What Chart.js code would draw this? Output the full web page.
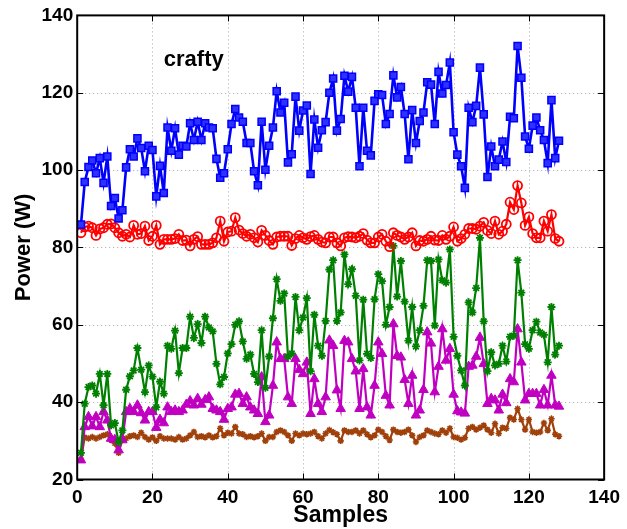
<!DOCTYPE html>
<html>
<head>
<meta charset="utf-8">
<script src="https://cdn.jsdelivr.net/npm/chart.js@4/dist/chart.umd.min.js"></script>
<style>
  html, body { margin: 0; padding: 0; background: #fff; }
  #wrap { width: 627px; height: 529px; position: relative; }
</style>
</head>
<body>
<div id="wrap"><canvas id="c" width="627" height="529"></canvas></div>
<script>
// Power draw of the "crafty" workload, one reading per sample
const seriesBlue = [
  85.9, 96.9, 100.8, 102.5, 99.2, 103.1, 96.7, 103.5, 90.7, 92.8,
  87.5, 89.6, 100.7, 105.4, 103.5, 108.2, 105.7, 99.7, 106.3, 105.2,
  93.2, 101.1, 94.1, 111.0, 105.0, 110.8, 104.0, 106.3, 106.1, 112.1,
  107.8, 112.5, 107.8, 112.1, 111.0, 110.8, 102.9, 98.0, 99.2, 105.4,
  111.9, 115.8, 113.6, 112.5, 107.0, 107.0, 99.7, 96.1, 112.5, 100.1,
  106.3, 111.0, 120.4, 114.9, 117.4, 102.0, 104.1, 119.0, 110.2, 115.4,
  116.7, 99.0, 113.1, 105.8, 110.3, 112.4, 120.0, 123.7, 110.2, 113.2,
  124.4, 120.3, 124.1, 116.1, 101.0, 116.1, 105.0, 103.8, 117.9, 119.6,
  119.4, 111.9, 114.5, 124.5, 118.8, 121.5, 114.5, 102.8, 115.5, 107.0,
  112.7, 114.9, 122.7, 122.1, 111.9, 125.4, 119.8, 122.0, 127.8, 109.8,
  104.0, 101.0, 95.4, 116.1, 112.4, 116.6, 126.5, 114.4, 98.2, 106.1,
  101.0, 102.7, 107.4, 102.1, 113.8, 113.4, 132.1, 123.9, 108.7, 105.5,
  111.5, 113.6, 110.3, 107.8, 101.8, 118.1, 103.1, 107.6
];
const seriesRed = [
  83.8, 85.3, 85.5, 85.1, 83.1, 84.8, 85.1, 86.0, 86.1, 85.1,
  83.8, 82.9, 83.4, 82.7, 85.7, 83.4, 83.6, 85.5, 81.8, 82.9,
  85.7, 80.8, 82.1, 82.1, 82.1, 82.3, 83.4, 81.8, 81.9, 80.4,
  82.1, 82.8, 80.8, 80.8, 80.8, 81.2, 82.5, 86.8, 81.6, 84.0,
  84.2, 87.7, 84.5, 83.6, 82.9, 83.4, 82.5, 81.4, 84.4, 83.1,
  81.8, 80.8, 82.7, 82.9, 82.9, 82.9, 80.5, 82.3, 83.1, 82.5,
  82.1, 82.8, 83.1, 82.1, 81.4, 81.2, 82.7, 82.7, 81.2, 80.4,
  82.5, 82.8, 82.7, 82.5, 82.9, 83.6, 81.9, 81.2, 81.2, 82.7,
  83.4, 81.6, 80.2, 83.8, 83.1, 82.7, 82.1, 82.7, 83.8, 80.4,
  81.8, 81.6, 82.1, 82.9, 81.9, 81.8, 83.1, 82.1, 82.9, 85.3,
  81.6, 82.3, 83.4, 84.9, 84.9, 84.7, 85.5, 86.5, 84.4, 83.6,
  86.8, 83.4, 84.2, 86.0, 91.7, 89.8, 96.0, 91.5, 85.7, 87.9,
  83.6, 82.5, 82.5, 86.8, 84.2, 88.5, 82.3, 81.6
];
const seriesGreen = [
  26.9, 39.6, 43.9, 44.3, 42.2, 47.3, 39.2, 47.3, 34.0, 34.6,
  29.7, 32.7, 43.2, 46.7, 48.2, 54.0, 48.4, 42.6, 49.5, 46.6,
  38.7, 45.3, 42.2, 54.6, 53.8, 58.5, 47.5, 54.0, 54.0, 62.1,
  56.6, 60.2, 55.3, 62.1, 59.3, 58.3, 49.9, 44.6, 46.5, 52.6,
  55.0, 60.0, 60.9, 55.7, 51.2, 52.3, 47.3, 45.2, 58.6, 43.7,
  51.8, 61.7, 71.8, 66.2, 68.1, 51.8, 52.6, 67.2, 58.6, 61.9,
  66.9, 48.0, 62.6, 54.6, 52.0, 61.0, 74.3, 76.7, 61.0, 63.2,
  78.2, 70.5, 74.4, 67.5, 50.8, 66.5, 52.5, 51.4, 66.6, 73.1,
  71.3, 60.0, 64.6, 80.4, 67.3, 76.5, 66.0, 55.9, 64.6, 54.4,
  58.6, 64.9, 76.7, 76.5, 59.8, 76.9, 71.5, 70.9, 79.5, 56.9,
  52.0, 48.2, 44.3, 65.8, 63.2, 69.5, 82.5, 60.9, 48.0, 52.9,
  49.5, 49.9, 54.6, 50.5, 56.9, 57.2, 76.7, 68.3, 55.0, 53.8,
  58.6, 60.8, 58.0, 57.4, 50.3, 64.6, 52.3, 54.6
];
const seriesMagenta = [
  25.0, 33.6, 36.2, 33.8, 36.2, 33.6, 37.5, 35.3, 30.6, 30.3,
  27.6, 30.2, 37.5, 38.3, 37.5, 39.2, 37.2, 35.3, 37.5, 37.5,
  33.4, 35.5, 34.6, 38.7, 37.5, 37.9, 37.5, 37.9, 39.4, 40.3,
  39.2, 40.9, 39.4, 40.6, 41.3, 38.3, 37.9, 37.5, 35.5, 38.3,
  38.7, 42.0, 42.2, 39.6, 41.3, 38.7, 37.9, 37.0, 46.5, 34.9,
  36.6, 44.3, 55.5, 51.2, 51.2, 41.3, 39.6, 51.2, 48.4, 47.3,
  50.3, 37.0, 46.0, 39.6, 37.5, 41.3, 56.0, 54.6, 43.1, 38.3,
  55.9, 55.5, 51.2, 48.0, 38.3, 48.6, 38.7, 36.6, 44.3, 55.5,
  52.5, 41.7, 39.2, 60.2, 52.0, 51.6, 45.8, 39.6, 46.9, 36.6,
  37.9, 43.2, 58.1, 55.2, 42.6, 49.2, 58.9, 50.8, 53.8, 42.0,
  37.7, 37.4, 37.1, 49.2, 49.5, 51.8, 56.7, 49.9, 39.6, 40.9,
  40.5, 37.9, 42.0, 39.8, 46.0, 45.2, 58.9, 50.3, 40.5, 42.2,
  42.2, 42.2, 39.2, 43.2, 39.2, 46.9, 39.2, 38.9
];
const seriesBrown = [
  25.2, 30.9, 30.6, 31.0, 30.6, 31.0, 31.4, 31.7, 30.2, 29.3,
  26.9, 30.3, 30.6, 31.2, 31.4, 31.0, 32.1, 31.0, 30.3, 30.9,
  30.0, 31.2, 30.6, 30.6, 30.6, 30.3, 31.0, 30.3, 30.6, 31.4,
  32.3, 31.0, 31.2, 30.9, 31.4, 30.9, 31.2, 33.2, 31.4, 32.1,
  31.9, 33.6, 31.9, 31.7, 31.0, 31.2, 30.9, 31.2, 31.9, 30.0,
  31.0, 31.0, 32.3, 32.7, 32.3, 31.4, 30.0, 31.9, 31.4, 31.9,
  31.7, 31.9, 32.3, 31.2, 30.6, 31.9, 32.8, 32.2, 31.7, 30.0,
  32.7, 32.3, 32.3, 32.7, 31.9, 32.7, 31.7, 30.9, 31.4, 32.9,
  32.3, 31.2, 30.2, 32.9, 32.3, 32.1, 32.3, 32.9, 31.4, 29.7,
  31.0, 31.4, 32.7, 32.3, 31.9, 31.7, 32.7, 32.1, 33.2, 31.0,
  30.8, 30.3, 30.8, 33.2, 33.6, 32.9, 33.4, 34.0, 32.9, 32.1,
  34.4, 31.9, 33.4, 33.2, 36.0, 35.5, 38.3, 35.5, 32.9, 35.5,
  32.3, 32.1, 32.3, 34.6, 32.7, 35.7, 31.7, 31.2
];
const xTicks = [0, 20, 40, 60, 80, 100, 120, 140];
const yTicks = [20, 40, 60, 80, 100, 120, 140];
const workloadName = 'crafty';

const samples = seriesBlue.map((_, i) => i + 1);
const toPoints = arr => arr.map((v, i) => ({ x: samples[i], y: v }));

const FONT = '"Liberation Sans", Arial, Helvetica, sans-serif';

// dotted grid under the data, boxed frame with inward ticks, and the workload name
const framePlugin = {
  id: 'frame',
  beforeDatasetsDraw(chart) {
    const { ctx, chartArea: a, scales: { x, y } } = chart;
    ctx.save();
    ctx.strokeStyle = '#a8a8a8';
    ctx.lineWidth = 1;
    ctx.setLineDash([1, 3]);
    xTicks.slice(1, -1).forEach(v => {
      const px = Math.round(x.getPixelForValue(v)) + 0.5;
      ctx.beginPath(); ctx.moveTo(px, a.top); ctx.lineTo(px, a.bottom); ctx.stroke();
    });
    yTicks.slice(1, -1).forEach(v => {
      const py = Math.round(y.getPixelForValue(v)) + 0.5;
      ctx.beginPath(); ctx.moveTo(a.left, py); ctx.lineTo(a.right, py); ctx.stroke();
    });
    ctx.restore();
  },
  afterDatasetsDraw(chart) {
    const { ctx, chartArea: a, scales: { x, y } } = chart;
    ctx.save();
    ctx.strokeStyle = '#000';
    ctx.lineWidth = 2;
    ctx.setLineDash([]);
    ctx.strokeRect(a.left, a.top, a.right - a.left, a.bottom - a.top);
    ctx.lineWidth = 1;
    const tl = 6;
    xTicks.forEach(v => {
      const px = Math.round(x.getPixelForValue(v)) + 0.5;
      ctx.beginPath();
      ctx.moveTo(px, a.bottom); ctx.lineTo(px, a.bottom - tl);
      ctx.moveTo(px, a.top); ctx.lineTo(px, a.top + tl);
      ctx.stroke();
    });
    yTicks.forEach(v => {
      const py = Math.round(y.getPixelForValue(v)) + 0.5;
      ctx.beginPath();
      ctx.moveTo(a.left, py); ctx.lineTo(a.left + tl, py);
      ctx.moveTo(a.right, py); ctx.lineTo(a.right - tl, py);
      ctx.stroke();
    });
    ctx.fillStyle = '#000';
    ctx.font = 'bold 22px ' + FONT;
    ctx.textAlign = 'left';
    ctx.textBaseline = 'alphabetic';
    ctx.fillText(workloadName, x.getPixelForValue(23), y.getPixelForValue(127));
    ctx.restore();
  }
};

new Chart(document.getElementById('c'), {
  type: 'line',
  data: {
    datasets: [
      {
        data: toPoints(seriesBlue),
        borderColor: '#0000ff', backgroundColor: '#2020ff',
        borderWidth: 2.6, pointStyle: 'rect', pointRadius: 5,
        pointBorderWidth: 1.5, pointBorderColor: '#0000ff', pointBackgroundColor: '#3030ff'
      },
      {
        data: toPoints(seriesRed),
        borderColor: '#ff0000', backgroundColor: 'rgba(0,0,0,0)',
        borderWidth: 2.2, pointStyle: 'circle', pointRadius: 4.5,
        pointBorderWidth: 1.8, pointBorderColor: '#ff0000', pointBackgroundColor: 'rgba(255,255,255,0)'
      },
      {
        data: toPoints(seriesGreen),
        borderColor: '#008000', backgroundColor: '#008000',
        borderWidth: 2.2, pointStyle: 'star', pointRadius: 4,
        pointBorderWidth: 1.8, pointBorderColor: '#008000'
      },
      {
        data: toPoints(seriesMagenta),
        borderColor: '#c000c0', backgroundColor: '#c000c0',
        borderWidth: 2.2, pointStyle: 'triangle', pointRadius: 5.5,
        pointBorderWidth: 1, pointBorderColor: '#c000c0', pointBackgroundColor: '#c000c0'
      },
      {
        data: toPoints(seriesBrown),
        borderColor: '#a0400a', backgroundColor: '#a0400a',
        borderWidth: 2.2, pointStyle: 'star', pointRadius: 3.2,
        pointBorderWidth: 1.6, pointBorderColor: '#a0400a'
      }
    ]
  },
  options: {
    responsive: false,
    animation: false,
    devicePixelRatio: 1,
    layout: { padding: { top: 13.5, right: 17, left: 0, bottom: 0 } },
    plugins: { legend: { display: false }, tooltip: { enabled: false } },
    elements: { line: { tension: 0 } },
    scales: {
      x: {
        type: 'linear', min: 0, max: 140,
        afterBuildTicks(s) { s.ticks = xTicks.map(v => ({ value: v })); },
        afterFit(s) { s.height = 49.5; },
        grid: { display: false, drawTicks: false },
        border: { display: false },
        ticks: { color: '#000', padding: 7, font: { family: FONT, size: 19, weight: 'bold' } },
        title: {
          display: true, text: 'Samples', color: '#000',
          font: { family: FONT, size: 23, weight: 'bold' },
          padding: { top: 0, bottom: 0 }
        }
      },
      y: {
        type: 'linear', min: 20, max: 140,
        afterBuildTicks(s) { s.ticks = yTicks.map(v => ({ value: v })); },
        afterFit(s) { s.width = 77.2; },
        grid: { display: false, drawTicks: false },
        border: { display: false },
        ticks: { color: '#000', padding: 4, font: { family: FONT, size: 19, weight: 'bold' } },
        title: {
          display: true, text: 'Power (W)', color: '#000',
          font: { family: FONT, size: 22, weight: 'bold' },
          padding: { top: 11, bottom: 0 }
        }
      }
    }
  },
  plugins: [framePlugin]
});
</script>
</body>
</html>
